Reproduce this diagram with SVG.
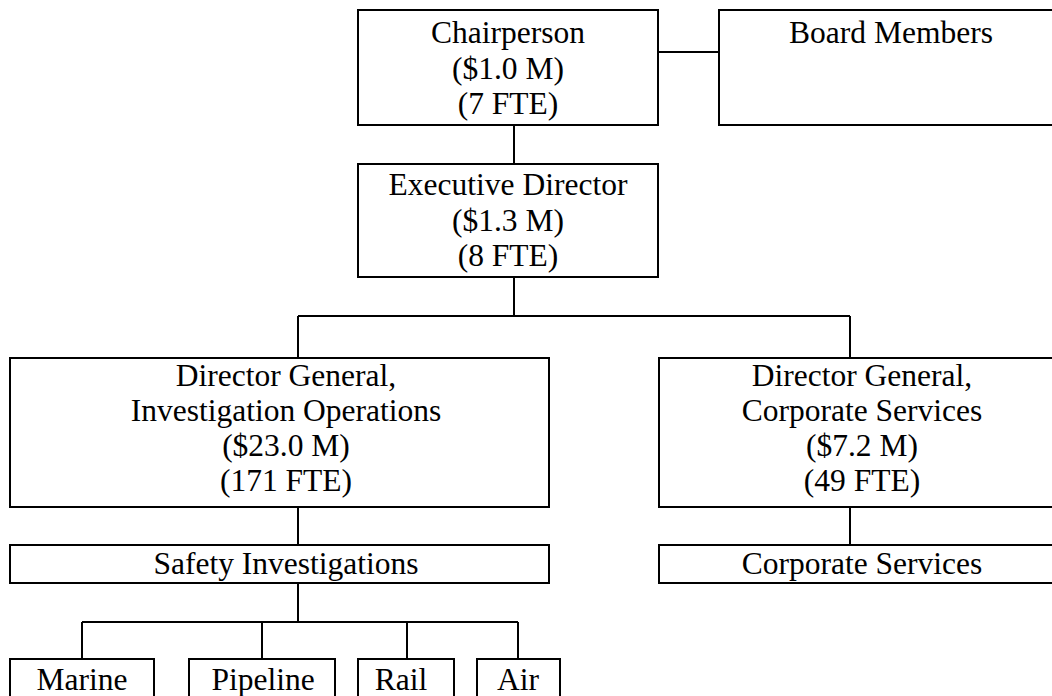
<svg xmlns="http://www.w3.org/2000/svg" width="1052" height="696" viewBox="0 0 1052 696">
<style>
.box{fill:#fff;stroke:#000;stroke-width:2}
.ln{fill:none;stroke:#000;stroke-width:2}
text{font-family:"Liberation Serif","Times New Roman",serif;font-size:31.5px;fill:#000;text-anchor:middle}
</style>
<rect width="1052" height="696" fill="#fff"/>
<g id="connectors">
<path class="ln" d="M514 125V164M658 52H719M514 277V316M298 316H850M298 316V358M850 316V358M298 507V545M850 507V545M298 583V622M82 622H518M82 622V659M262 622V659M407 622V659M518 622V659"/>
</g>
<g id="chairperson"><rect class="box" x="358" y="10" width="300" height="115"/><text x="508" y="43">Chairperson</text><text x="508" y="79">($1.0 M)</text><text x="508" y="114">(7 FTE)</text></g>
<g id="board"><rect class="box" x="719" y="10" width="345" height="115"/><text x="891" y="43">Board Members</text></g>
<g id="executive"><rect class="box" x="358" y="164" width="300" height="113"/><text x="508" y="195">Executive Director</text><text x="508" y="231">($1.3 M)</text><text x="508" y="266">(8 FTE)</text></g>
<g id="dg-investigation"><rect class="box" x="10" y="358" width="539" height="149"/><text x="286" y="386">Director General,</text><text x="286" y="421">Investigation Operations</text><text x="286" y="456">($23.0 M)</text><text x="286" y="491">(171 FTE)</text></g>
<g id="dg-corporate"><rect class="box" x="659" y="358" width="406" height="149"/><text x="862" y="386">Director General,</text><text x="862" y="421">Corporate Services</text><text x="862" y="456">($7.2 M)</text><text x="862" y="491">(49 FTE)</text></g>
<g id="safety"><rect class="box" x="10" y="545" width="539" height="38"/><text x="286" y="574">Safety Investigations</text></g>
<g id="corporate"><rect class="box" x="659" y="545" width="406" height="38"/><text x="862" y="574">Corporate Services</text></g>
<g id="marine"><rect class="box" x="10" y="659" width="144" height="60"/><text x="82" y="690">Marine</text></g>
<g id="pipeline"><rect class="box" x="189" y="659" width="146" height="60"/><text x="263" y="690">Pipeline</text></g>
<g id="rail"><rect class="box" x="358" y="659" width="96" height="60"/><text x="401" y="690">Rail</text></g>
<g id="air"><rect class="box" x="477" y="659" width="83" height="60"/><text x="518" y="690">Air</text></g>
</svg>
